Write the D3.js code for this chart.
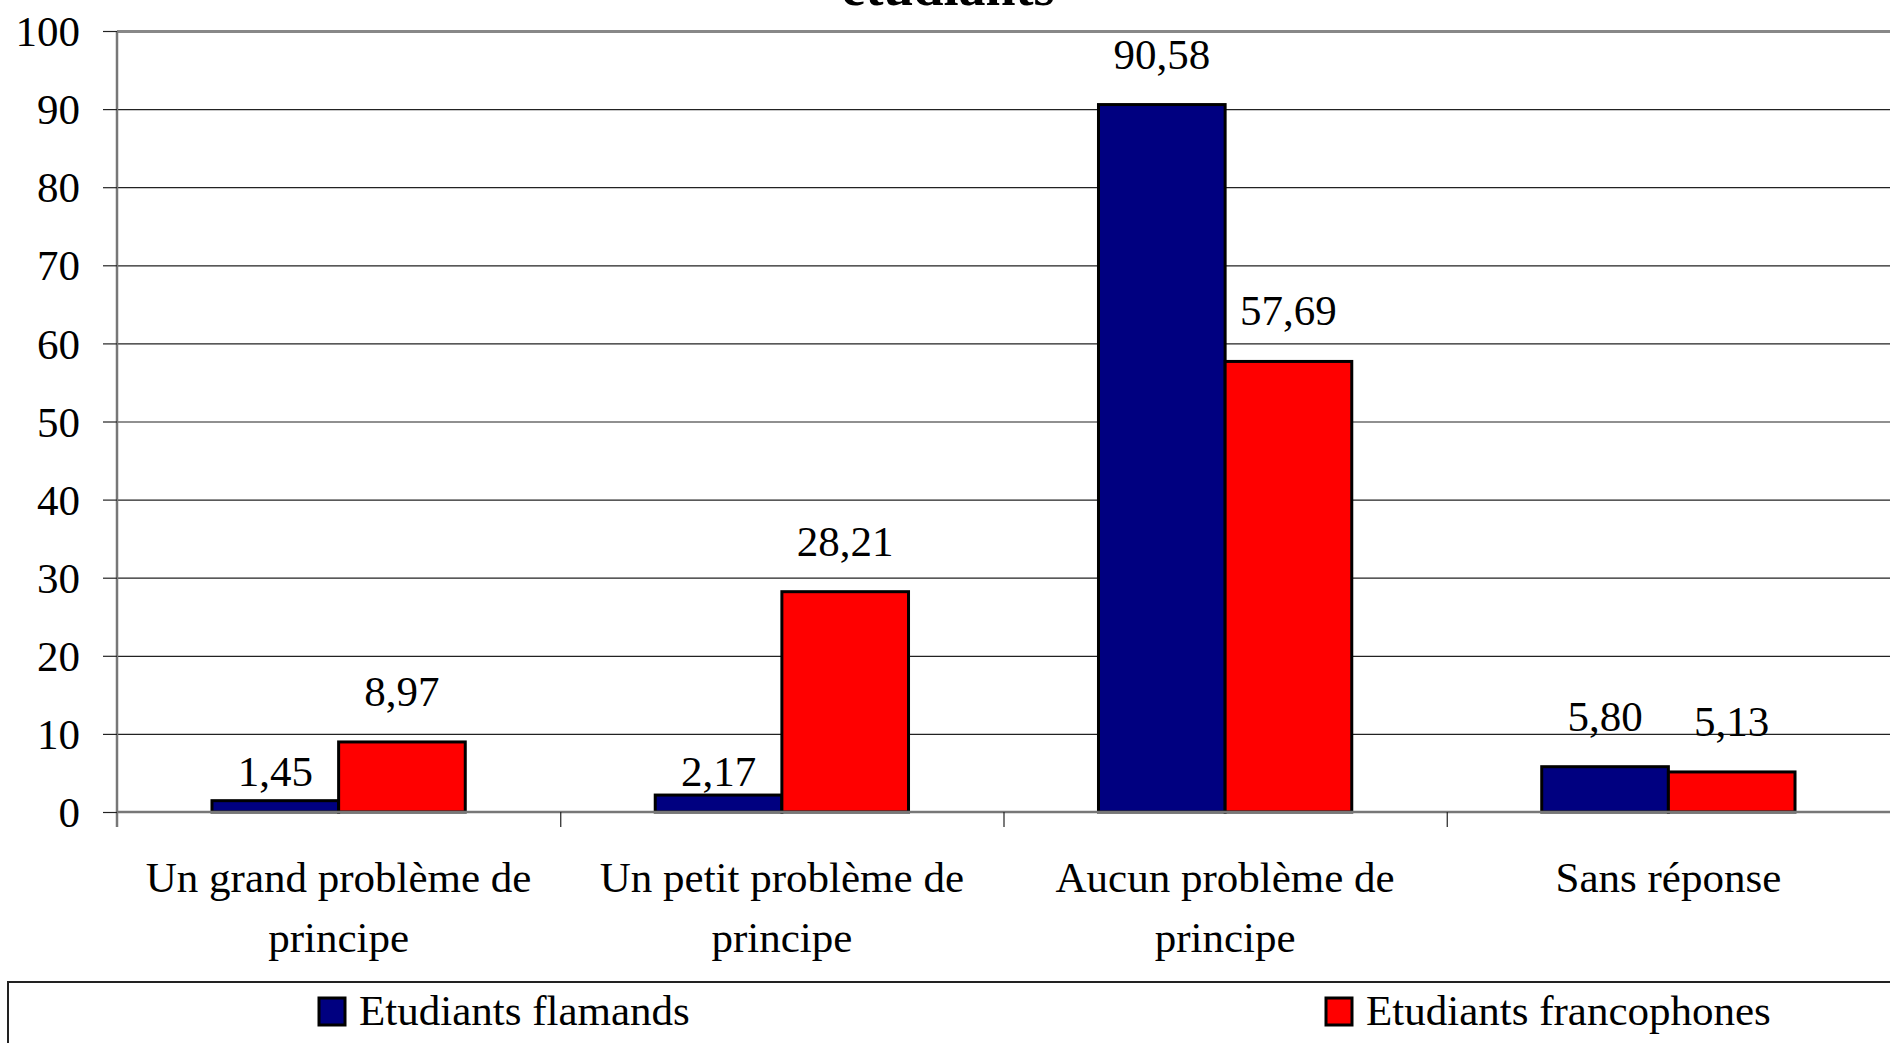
<!DOCTYPE html>
<html>
<head>
<meta charset="utf-8">
<script src="https://cdn.jsdelivr.net/npm/d3@7"></script>
<style>
  body { margin: 0; background: #fff; overflow: hidden; }
  svg { display: block; font-family: "Liberation Serif", "Times New Roman", serif; }
</style>
</head>
<body>
<svg id="chart" width="1890" height="1043"></svg>
<script>
// data
var categories = [
  ["Un grand problème de", "principe"],
  ["Un petit problème de", "principe"],
  ["Aucun problème de", "principe"],
  ["Sans réponse"]
];
var seriesNames = ["Etudiants flamands", "Etudiants francophones"];
var flamands = [1.45, 2.17, 90.58, 5.80];
var francophones = [8.97, 28.21, 57.69, 5.13];
var yTicks = [0, 10, 20, 30, 40, 50, 60, 70, 80, 90, 100];
var colors = ["#000080", "#ff0000"];

var svg = d3.select("#chart");
var plotLeft = 117, plotRight = 1890, plotTop = 31, plotBottom = 812;
var fs = 43;

var catIdx = categories.map(function(d, i){ return i; });
var x0 = d3.scaleBand().domain(catIdx).range([plotLeft, plotRight]).padding(0);
var x1 = d3.scaleBand().domain([0, 1]).range([0, x0.bandwidth()]).paddingInner(0).paddingOuter(0.75);
var y = d3.scaleLinear().domain([0, 100]).range([plotBottom, plotTop]);

// title (mostly cut off at the top)
svg.append("text")
  .attr("x", 948).attr("y", 5)
  .attr("text-anchor", "middle")
  .style("font-size", "54px").style("font-weight", "bold")
  .text("etudiants");

// gridlines
svg.append("g")
  .attr("transform", "translate(" + plotLeft + ",0)")
  .call(d3.axisLeft(y).tickValues(yTicks).tickSize(-(plotRight - plotLeft)).tickFormat(""))
  .call(function(g){
    g.select(".domain").remove();
    g.selectAll(".tick line").attr("stroke", "#222").attr("stroke-width", 1.2);
    g.selectAll(".tick").filter(function(d){ return d === 100; })
      .select("line").attr("stroke", "#888").attr("stroke-width", 3);
  });

// bars
var fmt = function(v){ return v.toFixed(2).replace(".", ","); };
var rows = catIdx.map(function(i){ return [flamands[i], francophones[i]]; });

var groups = svg.append("g").selectAll("g").data(rows).join("g")
  .attr("transform", function(d, i){ return "translate(" + x0(i) + ",0)"; });

groups.selectAll("rect").data(function(d){ return d; }).join("rect")
  .attr("x", function(d, j){ return x1(j); })
  .attr("y", function(d){ return y(d); })
  .attr("width", x1.bandwidth())
  .attr("height", function(d){ return y(0) - y(d); })
  .attr("fill", function(d, j){ return colors[j]; })
  .attr("stroke", "#000").attr("stroke-width", 3);

// value labels
groups.selectAll("text").data(function(d){ return d; }).join("text")
  .attr("x", function(d, j){ return x1(j) + x1.bandwidth() / 2; })
  .attr("y", function(d){ return d < 3 ? y(0) - 26 : y(d) - 36; })
  .attr("text-anchor", "middle")
  .style("font-size", fs + "px")
  .text(fmt);

// y axis
var yAxis = svg.append("g")
  .attr("transform", "translate(" + plotLeft + ",0)")
  .call(d3.axisLeft(y).tickValues(yTicks).tickSize(14).tickPadding(23));
yAxis.select(".domain").attr("stroke", "#777").attr("stroke-width", 2.5)
  .attr("d", "M0," + plotTop + "V" + (plotBottom + 15));
yAxis.selectAll(".tick line").attr("stroke", "#222").attr("stroke-width", 1.2);
yAxis.selectAll(".tick text")
  .style("font-size", fs + "px").style("font-family", "Liberation Serif")
  .attr("fill", "#000").attr("dy", "0.34em");

// x axis: line at zero and ticks between categories
svg.append("line")
  .attr("x1", plotLeft).attr("x2", plotRight).attr("y1", y(0)).attr("y2", y(0))
  .attr("stroke", "#777").attr("stroke-width", 2.5);
var xb = d3.scaleLinear().domain([0, categories.length]).range([plotLeft, plotRight]);
svg.append("g")
  .attr("transform", "translate(0," + y(0) + ")")
  .call(d3.axisBottom(xb).tickValues([1, 2, 3]).tickSize(15).tickFormat(""))
  .call(function(g){
    g.select(".domain").remove();
    g.selectAll(".tick line").attr("stroke", "#222").attr("stroke-width", 1.2);
  });

// category labels
svg.append("g").selectAll("text").data(categories).join("text")
  .attr("x", function(d, i){ return x0(i) + x0.bandwidth() / 2; })
  .attr("y", 892)
  .attr("text-anchor", "middle")
  .style("font-size", fs + "px")
  .selectAll("tspan").data(function(d){ return d; }).join("tspan")
  .attr("x", function(){ return this.parentNode.getAttribute("x"); })
  .attr("dy", function(d, k){ return k === 0 ? 0 : 60; })
  .text(function(d){ return d; });

// legend
var legend = svg.append("g");
legend.append("rect")
  .attr("x", 8).attr("y", 982).attr("width", 1900).attr("height", 100)
  .attr("fill", "none").attr("stroke", "#222").attr("stroke-width", 2);
var legX = [319, 1326];
var items = legend.selectAll("g.item").data(seriesNames).join("g")
  .attr("class", "item")
  .attr("transform", function(d, i){ return "translate(" + legX[i] + ",998)"; });
items.append("rect")
  .attr("width", 26).attr("height", 27)
  .attr("fill", function(d, i){ return colors[i]; })
  .attr("stroke", "#000").attr("stroke-width", 3);
items.append("text")
  .attr("x", 40).attr("y", 27)
  .style("font-size", fs + "px")
  .text(function(d){ return d; });
</script>
</body>
</html>
